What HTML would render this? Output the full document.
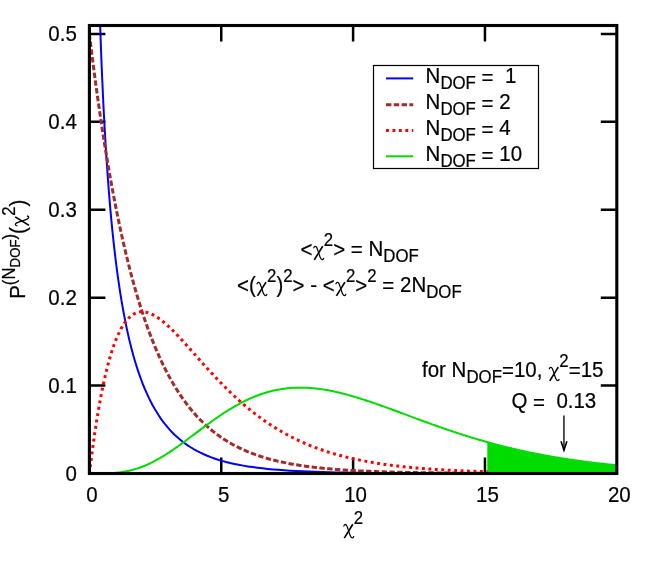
<!DOCTYPE html>
<html><head><meta charset="utf-8"><title>chi2</title>
<style>
html,body{margin:0;padding:0;background:#fff;}
svg{display:block;will-change:transform;}
.chi{fill:none;stroke:#000;}
text{font-family:"Liberation Sans",sans-serif;fill:#000;white-space:pre;stroke:#000;stroke-width:0.2px;}
</style></head><body>
<svg width="654" height="561" viewBox="0 0 654 561" font-size="20.5">
<rect width="654" height="561" fill="#fff"/>
<defs>
<clipPath id="c"><rect x="89.4" y="25.5" width="527.4" height="448.0"/></clipPath>
</defs>
<g stroke="#000" stroke-width="2.5" fill="none">
<path d="M89.40,385.59 h16.00 M616.80,385.59 h-16.00"/>
<path d="M89.40,297.68 h16.00 M616.80,297.68 h-16.00"/>
<path d="M89.40,209.77 h16.00 M616.80,209.77 h-16.00"/>
<path d="M89.40,121.86 h16.00 M616.80,121.86 h-16.00"/>
<path d="M89.40,33.95 h16.00 M616.80,33.95 h-16.00"/>
<path d="M221.25,473.50 v-16.00 M221.25,25.50 v16.00"/>
<path d="M353.10,473.50 v-16.00 M353.10,25.50 v16.00"/>
<path d="M484.95,473.50 v-16.00 M484.95,25.50 v16.00"/>
</g>
<g clip-path="url(#c)" fill="none">
<path d="M89.93,-1981.72 L89.94,-1944.97 L89.96,-1908.76 L89.98,-1873.06 L89.99,-1837.88 L90.01,-1803.20 L90.03,-1769.02 L90.05,-1735.33 L90.07,-1702.12 L90.09,-1669.39 L90.11,-1637.12 L90.13,-1605.32 L90.15,-1573.97 L90.17,-1543.07 L90.20,-1512.61 L90.22,-1482.59 L90.25,-1452.99 L90.27,-1423.81 L90.30,-1395.05 L90.32,-1366.70 L90.35,-1338.75 L90.38,-1311.19 L90.41,-1284.03 L90.44,-1257.25 L90.47,-1230.85 L90.50,-1204.82 L90.54,-1179.16 L90.57,-1153.86 L90.61,-1128.92 L90.64,-1104.33 L90.68,-1080.08 L90.72,-1056.17 L90.76,-1032.60 L90.80,-1009.36 L90.84,-986.44 L90.88,-963.85 L90.93,-941.56 L90.97,-919.59 L91.02,-897.93 L91.07,-876.56 L91.12,-855.49 L91.17,-834.71 L91.23,-814.22 L91.28,-794.01 L91.34,-774.08 L91.39,-754.43 L91.45,-735.04 L91.52,-715.92 L91.58,-697.06 L91.64,-678.46 L91.71,-660.11 L91.78,-642.01 L91.85,-624.16 L91.93,-606.55 L92.00,-589.17 L92.08,-572.03 L92.16,-555.13 L92.24,-538.44 L92.33,-521.99 L92.42,-505.75 L92.51,-489.73 L92.60,-473.92 L92.70,-458.32 L92.80,-442.93 L92.90,-427.75 L93.00,-412.76 L93.11,-397.97 L93.22,-383.38 L93.34,-368.97 L93.45,-354.75 L93.58,-340.72 L93.70,-326.88 L93.83,-313.21 L93.96,-299.71 L94.10,-286.39 L94.24,-273.25 L94.39,-260.27 L94.54,-247.46 L94.69,-234.81 L94.85,-222.32 L95.01,-209.99 L95.18,-197.82 L95.35,-185.80 L95.53,-173.93 L95.72,-162.21 L95.91,-150.63 L96.10,-139.21 L96.30,-127.92 L96.51,-116.78 L96.72,-105.77 L96.94,-94.90 L97.17,-84.16 L97.40,-73.56 L97.64,-63.08 L97.89,-52.74 L98.14,-42.52 L98.41,-32.43 L98.68,-22.46 L98.95,-12.61 L99.24,-2.88 L99.54,6.73 L99.84,16.22 L100.15,25.59 L100.48,34.86 L100.81,44.01 L101.15,53.04 L101.50,61.97 L101.87,70.79 L102.24,79.50 L102.63,88.11 L103.02,96.61 L103.43,105.00 L103.85,113.30 L104.28,121.49 L104.73,129.58 L105.19,137.56 L105.67,145.45 L106.15,153.24 L106.66,160.93 L107.17,168.53 L107.71,176.02 L108.26,183.42 L108.82,190.73 L109.40,197.94 L110.00,205.05 L110.62,212.07 L111.26,219.00 L111.91,225.83 L112.59,232.57 L113.29,239.22 L114.00,245.77 L114.74,252.23 L115.50,258.60 L116.28,264.87 L117.09,271.05 L117.92,277.14 L118.78,283.13 L119.66,289.03 L120.57,294.84 L121.50,300.55 L122.46,306.18 L123.46,311.70 L124.48,317.13 L125.53,322.47 L126.61,327.71 L127.73,332.86 L128.88,337.91 L130.06,342.87 L131.28,347.73 L132.54,352.49 L133.83,357.16 L135.17,361.73 L136.54,366.20 L137.96,370.57 L139.41,374.84 L140.91,379.01 L142.46,383.09 L144.05,387.06 L145.69,390.94 L147.38,394.71 L149.12,398.39 L150.91,401.96 L152.75,405.43 L154.65,408.81 L156.61,412.08 L158.63,415.25 L160.70,418.32 L162.84,421.29 L165.05,424.16 L167.32,426.93 L169.65,429.61 L172.06,432.18 L174.54,434.66 L177.10,437.04 L179.73,439.32 L182.44,441.51 L185.23,443.60 L188.10,445.60 L191.06,447.51 L194.11,449.33 L197.26,451.06 L200.49,452.71 L203.82,454.27 L207.26,455.74 L210.79,457.14 L214.43,458.46 L218.18,459.69 L222.05,460.86 L226.03,461.95 L230.13,462.97 L234.35,463.92 L238.70,464.81 L243.18,465.63 L247.79,466.40 L252.54,467.11 L257.43,467.76 L262.48,468.36 L267.67,468.91 L273.02,469.41 L278.52,469.87 L284.20,470.29 L290.04,470.67 L296.06,471.01 L302.26,471.32 L308.65,471.60 L315.22,471.84 L322.00,472.07 L328.98,472.26 L336.16,472.44 L343.57,472.59 L351.19,472.72 L359.05,472.84 L367.14,472.94 L375.47,473.03 L384.05,473.11 L392.89,473.17 L401.99,473.23 L411.37,473.28 L421.03,473.32 L430.98,473.35 L441.23,473.38 L451.78,473.40 L462.65,473.42 L473.85,473.44 L485.38,473.45 L497.26,473.46 L509.50,473.47 L522.10,473.48 L535.08,473.48 L548.45,473.49 L562.23,473.49 L576.41,473.49 L591.02,473.49 L606.07,473.50 L616.80,473.50" stroke="#0000ff" stroke-width="2.0"/>
<path d="M89.40,33.95 L90.72,44.80 L92.04,55.39 L93.36,65.71 L94.67,75.78 L95.99,85.60 L97.31,95.18 L98.63,104.52 L99.95,113.63 L101.27,122.51 L102.59,131.18 L103.90,139.63 L105.22,147.87 L106.54,155.91 L107.86,163.75 L109.18,171.40 L110.50,178.86 L111.81,186.14 L113.13,193.23 L114.45,200.15 L115.77,206.90 L117.09,213.48 L118.41,219.90 L119.73,226.16 L121.04,232.27 L122.36,238.23 L123.68,244.03 L125.00,249.70 L126.32,255.23 L127.64,260.62 L128.95,265.87 L130.27,271.00 L131.59,276.00 L132.91,280.87 L134.23,285.63 L135.55,290.27 L136.87,294.79 L138.18,299.20 L139.50,303.51 L140.82,307.71 L142.14,311.80 L143.46,315.79 L144.78,319.68 L146.10,323.48 L147.41,327.19 L148.73,330.80 L150.05,334.32 L151.37,337.76 L152.69,341.11 L154.01,344.38 L155.32,347.57 L156.64,350.68 L157.96,353.71 L159.28,356.67 L160.60,359.55 L161.92,362.36 L163.24,365.11 L164.55,367.78 L165.87,370.39 L167.19,372.94 L168.51,375.42 L169.83,377.84 L171.15,380.21 L172.47,382.51 L173.78,384.76 L175.10,386.95 L176.42,389.08 L177.74,391.17 L179.06,393.20 L180.38,395.18 L181.69,397.12 L183.01,399.00 L184.33,400.84 L185.65,402.64 L186.97,404.39 L188.29,406.09 L189.61,407.76 L190.92,409.38 L192.24,410.96 L193.56,412.51 L194.88,414.01 L196.20,415.48 L197.52,416.91 L198.84,418.31 L200.15,419.67 L201.47,421.00 L202.79,422.30 L204.11,423.56 L205.43,424.80 L206.75,426.00 L208.06,427.17 L209.38,428.32 L210.70,429.43 L212.02,430.52 L213.34,431.58 L214.66,432.62 L215.98,433.62 L217.29,434.61 L218.61,435.57 L219.93,436.51 L221.25,437.42 L222.57,438.31 L223.89,439.18 L225.21,440.03 L226.52,440.85 L227.84,441.66 L229.16,442.45 L230.48,443.21 L231.80,443.96 L233.12,444.69 L234.44,445.40 L235.75,446.09 L237.07,446.77 L238.39,447.43 L239.71,448.07 L241.03,448.70 L242.35,449.31 L243.66,449.91 L244.98,450.49 L246.30,451.06 L247.62,451.62 L248.94,452.16 L250.26,452.68 L251.58,453.20 L252.89,453.70 L254.21,454.19 L255.53,454.66 L256.85,455.13 L258.17,455.58 L259.49,456.03 L260.80,456.46 L262.12,456.88 L263.44,457.29 L264.76,457.69 L266.08,458.08 L267.40,458.46 L268.72,458.83 L270.03,459.19 L271.35,459.55 L272.67,459.89 L273.99,460.23 L275.31,460.55 L276.63,460.87 L277.95,461.19 L279.26,461.49 L280.58,461.79 L281.90,462.08 L283.22,462.36 L284.54,462.63 L285.86,462.90 L287.17,463.16 L288.49,463.42 L289.81,463.67 L291.13,463.91 L292.45,464.15 L293.77,464.38 L295.09,464.60 L296.40,464.82 L297.72,465.04 L299.04,465.25 L300.36,465.45 L301.68,465.65 L303.00,465.84 L304.32,466.03 L305.63,466.22 L306.95,466.40 L308.27,466.57 L309.59,466.74 L310.91,466.91 L312.23,467.07 L313.54,467.23 L314.86,467.38 L316.18,467.54 L317.50,467.68 L318.82,467.83 L320.14,467.97 L321.46,468.10 L322.77,468.24 L324.09,468.37 L325.41,468.49 L326.73,468.62 L328.05,468.74 L329.37,468.86 L330.69,468.97 L332.00,469.08 L333.32,469.19 L334.64,469.30 L335.96,469.40 L337.28,469.50 L338.60,469.60 L339.91,469.70 L341.23,469.79 L342.55,469.88 L343.87,469.97 L345.19,470.06 L346.51,470.14 L347.83,470.23 L349.14,470.31 L350.46,470.39 L351.78,470.46 L353.10,470.54 L354.42,470.61 L355.74,470.68 L357.06,470.75 L358.37,470.82 L359.69,470.89 L361.01,470.95 L362.33,471.01 L363.65,471.08 L364.97,471.14 L366.28,471.19 L367.60,471.25 L368.92,471.31 L370.24,471.36 L371.56,471.41 L372.88,471.46 L374.20,471.51 L375.51,471.56 L376.83,471.61 L378.15,471.66 L379.47,471.70 L380.79,471.75 L382.11,471.79 L383.43,471.83 L384.74,471.87 L386.06,471.91 L387.38,471.95 L388.70,471.99 L390.02,472.03 L391.34,472.07 L392.65,472.10 L393.97,472.14 L395.29,472.17 L396.61,472.20 L397.93,472.23 L399.25,472.27 L400.57,472.30 L401.88,472.33 L403.20,472.35 L404.52,472.38 L405.84,472.41 L407.16,472.44 L408.48,472.46 L409.80,472.49 L411.11,472.51 L412.43,472.54 L413.75,472.56 L415.07,472.59 L416.39,472.61 L417.71,472.63 L419.02,472.65 L420.34,472.67 L421.66,472.69 L422.98,472.71 L424.30,472.73 L425.62,472.75 L426.94,472.77 L428.25,472.79 L429.57,472.81 L430.89,472.82 L432.21,472.84 L433.53,472.86 L434.85,472.87 L436.17,472.89 L437.48,472.90 L438.80,472.92 L440.12,472.93 L441.44,472.95 L442.76,472.96 L444.08,472.97 L445.39,472.99 L446.71,473.00 L448.03,473.01 L449.35,473.02 L450.67,473.03 L451.99,473.05 L453.31,473.06 L454.62,473.07 L455.94,473.08 L457.26,473.09 L458.58,473.10 L459.90,473.11 L461.22,473.12 L462.54,473.13 L463.85,473.14 L465.17,473.15 L466.49,473.16 L467.81,473.16 L469.13,473.17 L470.45,473.18 L471.76,473.19 L473.08,473.20 L474.40,473.20 L475.72,473.21 L477.04,473.22 L478.36,473.22 L479.68,473.23 L480.99,473.24 L482.31,473.24 L483.63,473.25 L484.95,473.26 L486.27,473.26 L487.59,473.27 L488.91,473.27 L490.22,473.28 L491.54,473.29 L492.86,473.29 L494.18,473.30 L495.50,473.30 L496.82,473.31 L498.13,473.31 L499.45,473.32 L500.77,473.32 L502.09,473.32 L503.41,473.33 L504.73,473.33 L506.05,473.34 L507.36,473.34 L508.68,473.34 L510.00,473.35 L511.32,473.35 L512.64,473.36 L513.96,473.36 L515.28,473.36 L516.59,473.37 L517.91,473.37 L519.23,473.37 L520.55,473.38 L521.87,473.38 L523.19,473.38 L524.50,473.39 L525.82,473.39 L527.14,473.39 L528.46,473.39 L529.78,473.40 L531.10,473.40 L532.42,473.40 L533.73,473.40 L535.05,473.41 L536.37,473.41 L537.69,473.41 L539.01,473.41 L540.33,473.41 L541.65,473.42 L542.96,473.42 L544.28,473.42 L545.60,473.42 L546.92,473.42 L548.24,473.43 L549.56,473.43 L550.88,473.43 L552.19,473.43 L553.51,473.43 L554.83,473.44 L556.15,473.44 L557.47,473.44 L558.79,473.44 L560.10,473.44 L561.42,473.44 L562.74,473.44 L564.06,473.45 L565.38,473.45 L566.70,473.45 L568.02,473.45 L569.33,473.45 L570.65,473.45 L571.97,473.45 L573.29,473.45 L574.61,473.46 L575.93,473.46 L577.25,473.46 L578.56,473.46 L579.88,473.46 L581.20,473.46 L582.52,473.46 L583.84,473.46 L585.16,473.46 L586.47,473.46 L587.79,473.47 L589.11,473.47 L590.43,473.47 L591.75,473.47 L593.07,473.47 L594.39,473.47 L595.70,473.47 L597.02,473.47 L598.34,473.47 L599.66,473.47 L600.98,473.47 L602.30,473.47 L603.61,473.47 L604.93,473.48 L606.25,473.48 L607.57,473.48 L608.89,473.48 L610.21,473.48 L611.53,473.48 L612.84,473.48 L614.16,473.48 L615.48,473.48 L616.80,473.48" stroke="#a52a2a" stroke-width="3.0" stroke-dasharray="5.4 2.4"/>
<path d="M89.40,473.50 L90.72,462.78 L92.04,452.59 L93.36,442.92 L94.67,433.73 L95.99,425.01 L97.31,416.75 L98.63,408.93 L99.95,401.53 L101.27,394.53 L102.59,387.92 L103.90,381.69 L105.22,375.81 L106.54,370.28 L107.86,365.09 L109.18,360.21 L110.50,355.64 L111.81,351.37 L113.13,347.38 L114.45,343.66 L115.77,340.20 L117.09,336.99 L118.41,334.02 L119.73,331.28 L121.04,328.76 L122.36,326.45 L123.68,324.35 L125.00,322.44 L126.32,320.71 L127.64,319.16 L128.95,317.78 L130.27,316.56 L131.59,315.50 L132.91,314.58 L134.23,313.81 L135.55,313.17 L136.87,312.66 L138.18,312.28 L139.50,312.01 L140.82,311.85 L142.14,311.80 L143.46,311.85 L144.78,311.99 L146.10,312.23 L147.41,312.56 L148.73,312.96 L150.05,313.45 L151.37,314.00 L152.69,314.63 L154.01,315.33 L155.32,316.08 L156.64,316.90 L157.96,317.77 L159.28,318.70 L160.60,319.67 L161.92,320.69 L163.24,321.75 L164.55,322.86 L165.87,324.00 L167.19,325.17 L168.51,326.38 L169.83,327.63 L171.15,328.89 L172.47,330.19 L173.78,331.51 L175.10,332.85 L176.42,334.21 L177.74,335.60 L179.06,336.99 L180.38,338.40 L181.69,339.83 L183.01,341.27 L184.33,342.72 L185.65,344.17 L186.97,345.64 L188.29,347.11 L189.61,348.59 L190.92,350.07 L192.24,351.55 L193.56,353.04 L194.88,354.53 L196.20,356.01 L197.52,357.50 L198.84,358.98 L200.15,360.47 L201.47,361.94 L202.79,363.42 L204.11,364.89 L205.43,366.35 L206.75,367.81 L208.06,369.26 L209.38,370.71 L210.70,372.14 L212.02,373.57 L213.34,374.99 L214.66,376.40 L215.98,377.80 L217.29,379.19 L218.61,380.57 L219.93,381.94 L221.25,383.30 L222.57,384.65 L223.89,385.98 L225.21,387.31 L226.52,388.62 L227.84,389.92 L229.16,391.20 L230.48,392.48 L231.80,393.74 L233.12,394.99 L234.44,396.23 L235.75,397.45 L237.07,398.66 L238.39,399.85 L239.71,401.04 L241.03,402.21 L242.35,403.36 L243.66,404.50 L244.98,405.63 L246.30,406.75 L247.62,407.85 L248.94,408.94 L250.26,410.01 L251.58,411.07 L252.89,412.12 L254.21,413.15 L255.53,414.17 L256.85,415.17 L258.17,416.17 L259.49,417.14 L260.80,418.11 L262.12,419.06 L263.44,420.00 L264.76,420.93 L266.08,421.84 L267.40,422.74 L268.72,423.62 L270.03,424.50 L271.35,425.36 L272.67,426.21 L273.99,427.04 L275.31,427.87 L276.63,428.68 L277.95,429.48 L279.26,430.26 L280.58,431.04 L281.90,431.80 L283.22,432.55 L284.54,433.29 L285.86,434.02 L287.17,434.74 L288.49,435.44 L289.81,436.13 L291.13,436.82 L292.45,437.49 L293.77,438.15 L295.09,438.80 L296.40,439.44 L297.72,440.07 L299.04,440.69 L300.36,441.30 L301.68,441.90 L303.00,442.49 L304.32,443.06 L305.63,443.63 L306.95,444.19 L308.27,444.74 L309.59,445.28 L310.91,445.82 L312.23,446.34 L313.54,446.85 L314.86,447.36 L316.18,447.85 L317.50,448.34 L318.82,448.82 L320.14,449.29 L321.46,449.76 L322.77,450.21 L324.09,450.66 L325.41,451.10 L326.73,451.53 L328.05,451.95 L329.37,452.37 L330.69,452.77 L332.00,453.18 L333.32,453.57 L334.64,453.96 L335.96,454.34 L337.28,454.71 L338.60,455.08 L339.91,455.44 L341.23,455.79 L342.55,456.14 L343.87,456.48 L345.19,456.81 L346.51,457.14 L347.83,457.46 L349.14,457.78 L350.46,458.09 L351.78,458.39 L353.10,458.69 L354.42,458.99 L355.74,459.27 L357.06,459.56 L358.37,459.83 L359.69,460.10 L361.01,460.37 L362.33,460.63 L363.65,460.89 L364.97,461.14 L366.28,461.39 L367.60,461.63 L368.92,461.87 L370.24,462.11 L371.56,462.33 L372.88,462.56 L374.20,462.78 L375.51,463.00 L376.83,463.21 L378.15,463.42 L379.47,463.62 L380.79,463.82 L382.11,464.02 L383.43,464.21 L384.74,464.40 L386.06,464.58 L387.38,464.76 L388.70,464.94 L390.02,465.12 L391.34,465.29 L392.65,465.46 L393.97,465.62 L395.29,465.78 L396.61,465.94 L397.93,466.09 L399.25,466.25 L400.57,466.40 L401.88,466.54 L403.20,466.68 L404.52,466.83 L405.84,466.96 L407.16,467.10 L408.48,467.23 L409.80,467.36 L411.11,467.49 L412.43,467.61 L413.75,467.73 L415.07,467.85 L416.39,467.97 L417.71,468.08 L419.02,468.20 L420.34,468.31 L421.66,468.41 L422.98,468.52 L424.30,468.62 L425.62,468.73 L426.94,468.83 L428.25,468.92 L429.57,469.02 L430.89,469.11 L432.21,469.20 L433.53,469.29 L434.85,469.38 L436.17,469.47 L437.48,469.55 L438.80,469.64 L440.12,469.72 L441.44,469.80 L442.76,469.87 L444.08,469.95 L445.39,470.03 L446.71,470.10 L448.03,470.17 L449.35,470.24 L450.67,470.31 L451.99,470.38 L453.31,470.44 L454.62,470.51 L455.94,470.57 L457.26,470.63 L458.58,470.69 L459.90,470.75 L461.22,470.81 L462.54,470.87 L463.85,470.93 L465.17,470.98 L466.49,471.03 L467.81,471.09 L469.13,471.14 L470.45,471.19 L471.76,471.24 L473.08,471.29 L474.40,471.33 L475.72,471.38 L477.04,471.42 L478.36,471.47 L479.68,471.51 L480.99,471.55 L482.31,471.60 L483.63,471.64 L484.95,471.68 L486.27,471.72 L487.59,471.75 L488.91,471.79 L490.22,471.83 L491.54,471.86 L492.86,471.90 L494.18,471.93 L495.50,471.97 L496.82,472.00 L498.13,472.03 L499.45,472.06 L500.77,472.10 L502.09,472.13 L503.41,472.16 L504.73,472.18 L506.05,472.21 L507.36,472.24 L508.68,472.27 L510.00,472.29 L511.32,472.32 L512.64,472.35 L513.96,472.37 L515.28,472.40 L516.59,472.42 L517.91,472.44 L519.23,472.47 L520.55,472.49 L521.87,472.51 L523.19,472.53 L524.50,472.55 L525.82,472.57 L527.14,472.59 L528.46,472.61 L529.78,472.63 L531.10,472.65 L532.42,472.67 L533.73,472.69 L535.05,472.71 L536.37,472.72 L537.69,472.74 L539.01,472.76 L540.33,472.77 L541.65,472.79 L542.96,472.80 L544.28,472.82 L545.60,472.83 L546.92,472.85 L548.24,472.86 L549.56,472.88 L550.88,472.89 L552.19,472.90 L553.51,472.92 L554.83,472.93 L556.15,472.94 L557.47,472.95 L558.79,472.97 L560.10,472.98 L561.42,472.99 L562.74,473.00 L564.06,473.01 L565.38,473.02 L566.70,473.03 L568.02,473.04 L569.33,473.05 L570.65,473.06 L571.97,473.07 L573.29,473.08 L574.61,473.09 L575.93,473.10 L577.25,473.11 L578.56,473.12 L579.88,473.13 L581.20,473.13 L582.52,473.14 L583.84,473.15 L585.16,473.16 L586.47,473.17 L587.79,473.17 L589.11,473.18 L590.43,473.19 L591.75,473.19 L593.07,473.20 L594.39,473.21 L595.70,473.21 L597.02,473.22 L598.34,473.23 L599.66,473.23 L600.98,473.24 L602.30,473.24 L603.61,473.25 L604.93,473.26 L606.25,473.26 L607.57,473.27 L608.89,473.27 L610.21,473.28 L611.53,473.28 L612.84,473.29 L614.16,473.29 L615.48,473.30 L616.80,473.30" stroke="#ff0000" stroke-width="3.0" stroke-dasharray="2.9 3.55"/>
<path d="M487.30,473.50 L487.30,442.11 L488.60,442.47 L489.89,442.83 L491.19,443.18 L492.48,443.54 L493.77,443.89 L495.07,444.23 L496.37,444.58 L497.66,444.92 L498.96,445.25 L500.25,445.59 L501.54,445.92 L502.84,446.25 L504.13,446.58 L505.43,446.90 L506.73,447.22 L508.02,447.54 L509.31,447.85 L510.61,448.16 L511.90,448.47 L513.20,448.78 L514.50,449.08 L515.79,449.38 L517.09,449.68 L518.38,449.98 L519.68,450.27 L520.97,450.56 L522.26,450.85 L523.56,451.13 L524.86,451.41 L526.15,451.69 L527.44,451.96 L528.74,452.24 L530.03,452.51 L531.33,452.77 L532.62,453.04 L533.92,453.30 L535.22,453.56 L536.51,453.82 L537.80,454.07 L539.10,454.32 L540.39,454.57 L541.69,454.82 L542.99,455.06 L544.28,455.30 L545.57,455.54 L546.87,455.77 L548.16,456.01 L549.46,456.24 L550.75,456.47 L552.05,456.69 L553.34,456.92 L554.64,457.14 L555.93,457.36 L557.23,457.57 L558.52,457.78 L559.82,458.00 L561.12,458.20 L562.41,458.41 L563.71,458.62 L565.00,458.82 L566.29,459.02 L567.59,459.21 L568.88,459.41 L570.18,459.60 L571.47,459.79 L572.77,459.98 L574.06,460.17 L575.36,460.35 L576.65,460.53 L577.95,460.71 L579.25,460.89 L580.54,461.06 L581.84,461.24 L583.13,461.41 L584.42,461.58 L585.72,461.74 L587.01,461.91 L588.31,462.07 L589.60,462.23 L590.90,462.39 L592.19,462.55 L593.49,462.70 L594.78,462.86 L596.08,463.01 L597.38,463.16 L598.67,463.31 L599.97,463.45 L601.26,463.59 L602.55,463.74 L603.85,463.88 L605.14,464.02 L606.44,464.15 L607.73,464.29 L609.03,464.42 L610.32,464.55 L611.62,464.68 L612.91,464.81 L614.21,464.94 L615.50,465.06 L616.80,465.19 L616.80,473.50 Z" fill="#00dc00" stroke="none"/>
<path d="M89.40,473.50 L90.72,473.50 L92.04,473.50 L93.36,473.50 L94.67,473.50 L95.99,473.50 L97.31,473.49 L98.63,473.49 L99.95,473.48 L101.27,473.46 L102.59,473.44 L103.90,473.42 L105.22,473.39 L106.54,473.35 L107.86,473.31 L109.18,473.25 L110.50,473.19 L111.81,473.11 L113.13,473.02 L114.45,472.92 L115.77,472.81 L117.09,472.68 L118.41,472.53 L119.73,472.37 L121.04,472.20 L122.36,472.00 L123.68,471.79 L125.00,471.56 L126.32,471.32 L127.64,471.05 L128.95,470.76 L130.27,470.46 L131.59,470.13 L132.91,469.78 L134.23,469.41 L135.55,469.02 L136.87,468.61 L138.18,468.18 L139.50,467.73 L140.82,467.26 L142.14,466.76 L143.46,466.25 L144.78,465.71 L146.10,465.15 L147.41,464.57 L148.73,463.98 L150.05,463.36 L151.37,462.72 L152.69,462.06 L154.01,461.38 L155.32,460.69 L156.64,459.98 L157.96,459.24 L159.28,458.50 L160.60,457.73 L161.92,456.95 L163.24,456.15 L164.55,455.34 L165.87,454.51 L167.19,453.67 L168.51,452.81 L169.83,451.94 L171.15,451.06 L172.47,450.17 L173.78,449.27 L175.10,448.35 L176.42,447.43 L177.74,446.50 L179.06,445.56 L180.38,444.61 L181.69,443.65 L183.01,442.69 L184.33,441.72 L185.65,440.75 L186.97,439.77 L188.29,438.79 L189.61,437.80 L190.92,436.81 L192.24,435.82 L193.56,434.83 L194.88,433.84 L196.20,432.85 L197.52,431.86 L198.84,430.87 L200.15,429.88 L201.47,428.90 L202.79,427.92 L204.11,426.94 L205.43,425.96 L206.75,424.99 L208.06,424.03 L209.38,423.07 L210.70,422.12 L212.02,421.17 L213.34,420.23 L214.66,419.30 L215.98,418.38 L217.29,417.46 L218.61,416.56 L219.93,415.66 L221.25,414.78 L222.57,413.90 L223.89,413.03 L225.21,412.18 L226.52,411.34 L227.84,410.51 L229.16,409.69 L230.48,408.88 L231.80,408.09 L233.12,407.31 L234.44,406.54 L235.75,405.79 L237.07,405.05 L238.39,404.32 L239.71,403.61 L241.03,402.91 L242.35,402.23 L243.66,401.56 L244.98,400.90 L246.30,400.26 L247.62,399.64 L248.94,399.03 L250.26,398.44 L251.58,397.87 L252.89,397.30 L254.21,396.76 L255.53,396.23 L256.85,395.72 L258.17,395.22 L259.49,394.74 L260.80,394.27 L262.12,393.82 L263.44,393.39 L264.76,392.97 L266.08,392.57 L267.40,392.19 L268.72,391.82 L270.03,391.47 L271.35,391.13 L272.67,390.81 L273.99,390.51 L275.31,390.22 L276.63,389.95 L277.95,389.69 L279.26,389.45 L280.58,389.22 L281.90,389.01 L283.22,388.82 L284.54,388.64 L285.86,388.47 L287.17,388.32 L288.49,388.19 L289.81,388.07 L291.13,387.96 L292.45,387.87 L293.77,387.80 L295.09,387.74 L296.40,387.69 L297.72,387.65 L299.04,387.63 L300.36,387.63 L301.68,387.63 L303.00,387.65 L304.32,387.69 L305.63,387.73 L306.95,387.79 L308.27,387.86 L309.59,387.95 L310.91,388.04 L312.23,388.15 L313.54,388.27 L314.86,388.40 L316.18,388.54 L317.50,388.70 L318.82,388.86 L320.14,389.04 L321.46,389.22 L322.77,389.42 L324.09,389.63 L325.41,389.84 L326.73,390.07 L328.05,390.31 L329.37,390.55 L330.69,390.81 L332.00,391.07 L333.32,391.35 L334.64,391.63 L335.96,391.92 L337.28,392.22 L338.60,392.52 L339.91,392.84 L341.23,393.16 L342.55,393.49 L343.87,393.83 L345.19,394.17 L346.51,394.52 L347.83,394.88 L349.14,395.24 L350.46,395.61 L351.78,395.99 L353.10,396.37 L354.42,396.76 L355.74,397.16 L357.06,397.56 L358.37,397.96 L359.69,398.37 L361.01,398.78 L362.33,399.20 L363.65,399.63 L364.97,400.06 L366.28,400.49 L367.60,400.93 L368.92,401.37 L370.24,401.81 L371.56,402.26 L372.88,402.71 L374.20,403.16 L375.51,403.62 L376.83,404.08 L378.15,404.54 L379.47,405.01 L380.79,405.48 L382.11,405.95 L383.43,406.42 L384.74,406.90 L386.06,407.37 L387.38,407.85 L388.70,408.33 L390.02,408.81 L391.34,409.30 L392.65,409.78 L393.97,410.27 L395.29,410.75 L396.61,411.24 L397.93,411.73 L399.25,412.22 L400.57,412.71 L401.88,413.19 L403.20,413.68 L404.52,414.17 L405.84,414.67 L407.16,415.16 L408.48,415.65 L409.80,416.14 L411.11,416.63 L412.43,417.11 L413.75,417.60 L415.07,418.09 L416.39,418.58 L417.71,419.07 L419.02,419.55 L420.34,420.04 L421.66,420.52 L422.98,421.00 L424.30,421.49 L425.62,421.97 L426.94,422.45 L428.25,422.92 L429.57,423.40 L430.89,423.88 L432.21,424.35 L433.53,424.82 L434.85,425.29 L436.17,425.76 L437.48,426.23 L438.80,426.69 L440.12,427.15 L441.44,427.61 L442.76,428.07 L444.08,428.53 L445.39,428.98 L446.71,429.44 L448.03,429.89 L449.35,430.33 L450.67,430.78 L451.99,431.22 L453.31,431.66 L454.62,432.10 L455.94,432.54 L457.26,432.97 L458.58,433.40 L459.90,433.83 L461.22,434.26 L462.54,434.68 L463.85,435.10 L465.17,435.52 L466.49,435.93 L467.81,436.34 L469.13,436.75 L470.45,437.16 L471.76,437.57 L473.08,437.97 L474.40,438.37 L475.72,438.76 L477.04,439.15 L478.36,439.54 L479.68,439.93 L480.99,440.31 L482.31,440.70 L483.63,441.07 L484.95,441.45 L486.27,441.82 L487.59,442.19 L488.91,442.56 L490.22,442.92 L491.54,443.28 L492.86,443.64 L494.18,443.99 L495.50,444.35 L496.82,444.70 L498.13,445.04 L499.45,445.38 L500.77,445.72 L502.09,446.06 L503.41,446.39 L504.73,446.72 L506.05,447.05 L507.36,447.38 L508.68,447.70 L510.00,448.02 L511.32,448.33 L512.64,448.65 L513.96,448.96 L515.28,449.27 L516.59,449.57 L517.91,449.87 L519.23,450.17 L520.55,450.46 L521.87,450.76 L523.19,451.05 L524.50,451.33 L525.82,451.62 L527.14,451.90 L528.46,452.18 L529.78,452.45 L531.10,452.73 L532.42,453.00 L533.73,453.26 L535.05,453.53 L536.37,453.79 L537.69,454.05 L539.01,454.30 L540.33,454.56 L541.65,454.81 L542.96,455.06 L544.28,455.30 L545.60,455.54 L546.92,455.78 L548.24,456.02 L549.56,456.26 L550.88,456.49 L552.19,456.72 L553.51,456.94 L554.83,457.17 L556.15,457.39 L557.47,457.61 L558.79,457.83 L560.10,458.04 L561.42,458.25 L562.74,458.46 L564.06,458.67 L565.38,458.88 L566.70,459.08 L568.02,459.28 L569.33,459.48 L570.65,459.67 L571.97,459.86 L573.29,460.05 L574.61,460.24 L575.93,460.43 L577.25,460.61 L578.56,460.80 L579.88,460.97 L581.20,461.15 L582.52,461.33 L583.84,461.50 L585.16,461.67 L586.47,461.84 L587.79,462.01 L589.11,462.17 L590.43,462.33 L591.75,462.49 L593.07,462.65 L594.39,462.81 L595.70,462.96 L597.02,463.12 L598.34,463.27 L599.66,463.42 L600.98,463.56 L602.30,463.71 L603.61,463.85 L604.93,463.99 L606.25,464.13 L607.57,464.27 L608.89,464.41 L610.21,464.54 L611.53,464.67 L612.84,464.80 L614.16,464.93 L615.48,465.06 L616.80,465.19" stroke="#00dc00" stroke-width="2.0"/>
</g>
<rect x="89.4" y="25.5" width="527.4" height="448.0" fill="none" stroke="#000" stroke-width="3.1"/>
<g>
<text transform="translate(65.40,480.90) scale(1,1.045)" font-size="20.50">0</text>
<text transform="translate(48.30,392.99) scale(1,1.045)" font-size="20.50">0.1</text>
<text transform="translate(48.30,305.08) scale(1,1.045)" font-size="20.50">0.2</text>
<text transform="translate(48.30,217.17) scale(1,1.045)" font-size="20.50">0.3</text>
<text transform="translate(48.30,129.26) scale(1,1.045)" font-size="20.50">0.4</text>
<text transform="translate(48.30,41.35) scale(1,1.045)" font-size="20.50">0.5</text>
<text transform="translate(86.20,501.70) scale(1,1.045)" font-size="20.50">0</text>
<text transform="translate(218.05,501.70) scale(1,1.045)" font-size="20.50">5</text>
<text transform="translate(344.20,501.70) scale(1,1.045)" font-size="20.50">10</text>
<text transform="translate(476.05,501.70) scale(1,1.045)" font-size="20.50">15</text>
<text transform="translate(607.90,501.70) scale(1,1.045)" font-size="20.50">20</text>
</g>
<rect x="373.5" y="65.5" width="165" height="103" fill="#fff" stroke="#000" stroke-width="1.2"/>
<line x1="386" y1="78.4" x2="413.2" y2="78.4" stroke="#0000ff" stroke-width="2.0"/>
<line x1="386" y1="104.65" x2="413.2" y2="104.65" stroke="#a52a2a" stroke-width="3.0" stroke-dasharray="5.4 2.4"/>
<line x1="386" y1="130.6" x2="413.2" y2="130.6" stroke="#ff0000" stroke-width="3.0" stroke-dasharray="2.9 3.55"/>
<line x1="386" y1="156.3" x2="413.2" y2="156.3" stroke="#00dc00" stroke-width="2.0"/>
<text transform="translate(425.60,83.10) scale(1,1.045)" font-size="20.50">N</text><text transform="translate(440.40,89.25) scale(1,1.045)" font-size="16.81">DOF</text><text transform="translate(475.89,83.10) scale(1,1.045)" font-size="20.50">&#160;</text><text transform="translate(481.58,84.50) scale(1,1.045)" font-size="20.50">=</text><text transform="translate(493.55,83.10) scale(1,1.045)" font-size="20.50">&#160;&#160;1</text>
<text transform="translate(425.60,109.10) scale(1,1.045)" font-size="20.50">N</text><text transform="translate(440.40,115.25) scale(1,1.045)" font-size="16.81">DOF</text><text transform="translate(475.89,109.10) scale(1,1.045)" font-size="20.50">&#160;</text><text transform="translate(481.58,110.50) scale(1,1.045)" font-size="20.50">=</text><text transform="translate(493.55,109.10) scale(1,1.045)" font-size="20.50">&#160;2</text>
<text transform="translate(425.60,135.10) scale(1,1.045)" font-size="20.50">N</text><text transform="translate(440.40,141.25) scale(1,1.045)" font-size="16.81">DOF</text><text transform="translate(475.89,135.10) scale(1,1.045)" font-size="20.50">&#160;</text><text transform="translate(481.58,136.50) scale(1,1.045)" font-size="20.50">=</text><text transform="translate(493.55,135.10) scale(1,1.045)" font-size="20.50">&#160;4</text>
<text transform="translate(425.60,161.10) scale(1,1.045)" font-size="20.50">N</text><text transform="translate(440.40,167.25) scale(1,1.045)" font-size="16.81">DOF</text><text transform="translate(475.89,161.10) scale(1,1.045)" font-size="20.50">&#160;</text><text transform="translate(481.58,162.50) scale(1,1.045)" font-size="20.50">=</text><text transform="translate(493.55,161.10) scale(1,1.045)" font-size="20.50">&#160;10</text>
<text transform="translate(300.60,257.40) scale(1,1.045)" font-size="20.50">&lt;</text><g class="chi" transform="translate(312.57,256.00) scale(1.0000)"><path d="M10.2,-9.9 L1.7,3.9" stroke-width="1.7"/><path d="M1.1,-7.7 C1.3,-9.4 2.6,-10.4 3.8,-9.1 C5.0,-7.6 6.7,-0.6 7.7,1.6 C8.8,4.2 10.6,4.3 11.2,1.9" stroke-width="1.25"/></g><text transform="translate(323.83,245.75) scale(1,1.045)" font-size="16.81">2</text><text transform="translate(333.18,257.40) scale(1,1.045)" font-size="20.50">&gt;</text><text transform="translate(345.15,256.00) scale(1,1.045)" font-size="20.50">&#160;</text><text transform="translate(350.84,257.40) scale(1,1.045)" font-size="20.50">=</text><text transform="translate(362.81,256.00) scale(1,1.045)" font-size="20.50">&#160;N</text><text transform="translate(383.31,262.15) scale(1,1.045)" font-size="16.81">DOF</text>
<text transform="translate(237.00,293.40) scale(1,1.045)" font-size="20.50">&lt;</text><text transform="translate(248.97,292.00) scale(1,1.045)" font-size="20.50">(</text><g class="chi" transform="translate(255.80,292.00) scale(1.0000)"><path d="M10.2,-9.9 L1.7,3.9" stroke-width="1.7"/><path d="M1.1,-7.7 C1.3,-9.4 2.6,-10.4 3.8,-9.1 C5.0,-7.6 6.7,-0.6 7.7,1.6 C8.8,4.2 10.6,4.3 11.2,1.9" stroke-width="1.25"/></g><text transform="translate(267.05,281.75) scale(1,1.045)" font-size="16.81">2</text><text transform="translate(276.40,292.00) scale(1,1.045)" font-size="20.50">)</text><text transform="translate(283.23,281.75) scale(1,1.045)" font-size="16.81">2</text><text transform="translate(292.58,293.40) scale(1,1.045)" font-size="20.50">&gt;</text><text transform="translate(304.55,292.00) scale(1,1.045)" font-size="20.50">&#160;-&#160;</text><text transform="translate(322.77,293.40) scale(1,1.045)" font-size="20.50">&lt;</text><g class="chi" transform="translate(334.74,292.00) scale(1.0000)"><path d="M10.2,-9.9 L1.7,3.9" stroke-width="1.7"/><path d="M1.1,-7.7 C1.3,-9.4 2.6,-10.4 3.8,-9.1 C5.0,-7.6 6.7,-0.6 7.7,1.6 C8.8,4.2 10.6,4.3 11.2,1.9" stroke-width="1.25"/></g><text transform="translate(345.99,281.75) scale(1,1.045)" font-size="16.81">2</text><text transform="translate(355.34,293.40) scale(1,1.045)" font-size="20.50">&gt;</text><text transform="translate(367.31,281.75) scale(1,1.045)" font-size="16.81">2</text><text transform="translate(376.66,292.00) scale(1,1.045)" font-size="20.50">&#160;</text><text transform="translate(382.36,293.40) scale(1,1.045)" font-size="20.50">=</text><text transform="translate(394.33,292.00) scale(1,1.045)" font-size="20.50">&#160;2N</text><text transform="translate(426.23,298.15) scale(1,1.045)" font-size="16.81">DOF</text>
<text transform="translate(422.00,377.00) scale(1,1.045)" font-size="20.50">for&#160;N</text><text transform="translate(466.42,383.15) scale(1,1.045)" font-size="16.81">DOF</text><text transform="translate(501.91,378.40) scale(1,1.045)" font-size="20.50">=</text><text transform="translate(513.88,377.00) scale(1,1.045)" font-size="20.50">10,&#160;</text><g class="chi" transform="translate(548.07,377.00) scale(1.0000)"><path d="M10.2,-9.9 L1.7,3.9" stroke-width="1.7"/><path d="M1.1,-7.7 C1.3,-9.4 2.6,-10.4 3.8,-9.1 C5.0,-7.6 6.7,-0.6 7.7,1.6 C8.8,4.2 10.6,4.3 11.2,1.9" stroke-width="1.25"/></g><text transform="translate(559.33,366.75) scale(1,1.045)" font-size="16.81">2</text><text transform="translate(568.68,378.40) scale(1,1.045)" font-size="20.50">=</text><text transform="translate(580.65,377.00) scale(1,1.045)" font-size="20.50">15</text>
<text transform="translate(511.40,408.30) scale(1,1.045)" font-size="20.50">Q&#160;</text><text transform="translate(533.04,409.70) scale(1,1.045)" font-size="20.50">=</text><text transform="translate(545.01,408.30) scale(1,1.045)" font-size="20.50">&#160;&#160;0.13</text>
<g stroke="#000" fill="none"><path d="M563.95,415.4 V450.5" stroke-width="1.35"/><path d="M561.0,441.3 L563.95,450.3 L566.9,441.3" stroke-width="1.6"/></g>
<g class="chi" transform="translate(342.60,534.20) scale(1.0000)"><path d="M10.2,-9.9 L1.7,3.9" stroke-width="1.7"/><path d="M1.1,-7.7 C1.3,-9.4 2.6,-10.4 3.8,-9.1 C5.0,-7.6 6.7,-0.6 7.7,1.6 C8.8,4.2 10.6,4.3 11.2,1.9" stroke-width="1.25"/></g><text transform="translate(353.85,523.95) scale(1,1.045)" font-size="16.81">2</text>
<g transform="translate(25.1,298.8) rotate(-90)">
<text transform="translate(0.00,0.00) scale(1,1.045)" font-size="20.50">P</text><text transform="translate(13.67,-10.25) scale(1,1.045)" font-size="16.81">(N</text><text transform="translate(31.41,-4.82) scale(1,1.045)" font-size="13.22">DOF</text><text transform="translate(59.32,-10.25) scale(1,1.045)" font-size="16.81">)</text><text transform="translate(64.92,0.00) scale(1,1.045)" font-size="20.50">(</text><g class="chi" transform="translate(71.75,0.00) scale(1.0000)"><path d="M10.2,-9.9 L1.7,3.9" stroke-width="1.7"/><path d="M1.1,-7.7 C1.3,-9.4 2.6,-10.4 3.8,-9.1 C5.0,-7.6 6.7,-0.6 7.7,1.6 C8.8,4.2 10.6,4.3 11.2,1.9" stroke-width="1.25"/></g><text transform="translate(83.00,-10.25) scale(1,1.045)" font-size="16.81">2</text><text transform="translate(92.35,0.00) scale(1,1.045)" font-size="20.50">)</text>
</g>
</svg>
</body></html>
